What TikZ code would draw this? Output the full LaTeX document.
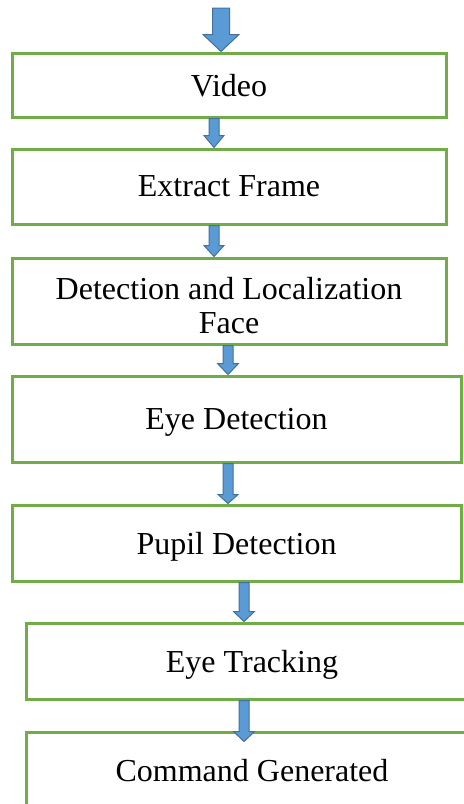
\documentclass[tikz,border=0pt]{standalone}
\usepackage{fontspec}
\setmainfont{Liberation Serif}
\usetikzlibrary{calc}
\definecolor{boxgreen}{HTML}{70AD47}
\definecolor{arrowblue}{HTML}{5B9BD5}
\definecolor{arrowedge}{HTML}{41719C}
% block arrow: start, tip, shaft half width, head half width, head length
\newcommand\flowarrow[5]{%
  \filldraw[blockarrow] ($(#1)+(-#3,0)$) -- ($(#2)+(-#3,-#5)$) -- ($(#2)+(-#4,-#5)$) -- (#2)
    -- ($(#2)+(#4,-#5)$) -- ($(#2)+(#3,-#5)$) -- ($(#1)+(#3,0)$) -- cycle;}
\begin{document}
\begin{tikzpicture}[x=0.5pt,y=-0.5pt,
  stepbox/.style={draw=boxgreen,line width=1.5pt,fill=white,align=center,
    font=\fontsize{16}{17}\selectfont,inner sep=0pt,text depth=0pt},
  blockarrow/.style={fill=arrowblue,draw=arrowedge,line width=0.5pt,line join=miter}]
\useasboundingbox (0,0) rectangle (464,804);
\clip (0,0) rectangle (464,804);
\node[stepbox,minimum width=217pt,minimum height=32pt] (vid) at (229,85) {Video};
\node[stepbox,minimum width=217pt,minimum height=37.5pt] (frame) at (229,186.5) {Extract Frame};
\node[stepbox,minimum width=217pt,minimum height=43pt] (face) at (229,301) {\rule{0pt}{15pt}Detection and Localization\\Face};
\node[stepbox,minimum width=224.5pt,minimum height=43pt] (eye) at (236.5,419) {Eye Detection};
\node[stepbox,minimum width=224.5pt,minimum height=38pt] (pupil) at (236.5,543) {Pupil Detection};
\node[stepbox,minimum width=226pt,minimum height=38pt] (track) at (252,661) {Eye Tracking};
\node[stepbox,minimum width=226pt,minimum height=38pt] (cmd) at (252,770) {Command Generated};
\coordinate (in) at (221,8);
\coordinate (c0) at (221,0);
\coordinate (c1) at (214,0);
\coordinate (c2) at (228,0);
\coordinate (c3) at (244,0);
\coordinate (t7) at ($(cmd.north -| c3)+(0,11)$);
\flowarrow{in}{vid.north -| c0}{8.5}{18}{17}
\flowarrow{vid.south -| c1}{frame.north -| c1}{5}{10}{12}
\flowarrow{frame.south -| c1}{face.north -| c1}{5}{10}{11}
\flowarrow{face.south -| c2}{eye.north -| c2}{5}{10.5}{11}
\flowarrow{eye.south -| c2}{pupil.north -| c2}{5}{10}{9}
\flowarrow{pupil.south -| c3}{track.north -| c3}{5}{10.5}{10}
\flowarrow{track.south -| c3}{t7}{5}{10.5}{10}
\end{tikzpicture}
\end{document}
